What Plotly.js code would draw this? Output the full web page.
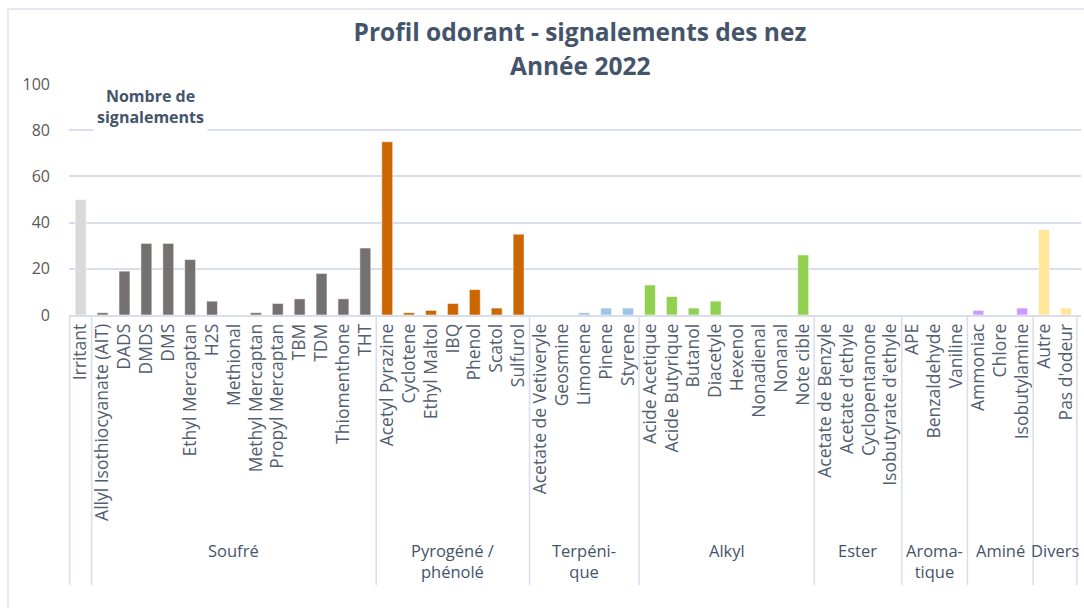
<!DOCTYPE html>
<html>
<head>
<meta charset="utf-8">
<script src="https://cdn.plot.ly/plotly-3.0.1.min.js"></script>
<style>html,body{margin:0;padding:0;background:#fff;}#chart{width:1084px;height:608px;}</style>
</head>
<body>
<div id="chart"></div>
<script>
const categories = ["Irritant",
  "Allyl Isothiocyanate (AIT)","DADS","DMDS","DMS","Ethyl Mercaptan","H2S","Methional","Methyl Mercaptan","Propyl Mercaptan","TBM","TDM","Thiomenthone","THT",
  "Acetyl Pyrazine","Cyclotene","Ethyl Maltol","IBQ","Phenol","Scatol","Sulfurol",
  "Acetate de Vetiveryle","Geosmine","Limonene","Pinene","Styrene",
  "Acide Acetique","Acide Butyrique","Butanol","Diacetyle","Hexenol","Nonadienal","Nonanal","Note cible",
  "Acetate de Benzyle","Acetate d'ethyle","Cyclopentanone","Isobutyrate d'ethyle",
  "APE","Benzaldehyde","Vaniline",
  "Ammoniac","Chlore","Isobutylamine",
  "Autre","Pas d'odeur"];
const values = [50,
  1,19,31,31,24,6,0,1,5,7,18,7,29,
  75,1,2,5,11,3,35,
  0,0,1,3,3,
  13,8,3,6,0,0,0,26,
  0,0,0,0,
  0,0,0,
  2,0,3,
  37,3];
const groupNames = ["", "Soufré", "Pyrogéné /<br>phénolé", "Terpéni-<br>que", "Alkyl", "Ester", "Aroma-<br>tique", "Aminé", "Divers"];
const groupSizes = [1, 13, 7, 5, 8, 4, 3, 3, 2];
const groupColors = ["#d9d9d9", "#767171", "#cc6600", "#9dc3e6", "#92d050", "#a9d18e", "#8faadc", "#cc99ff", "#ffe699"];
const yTicks = [0, 20, 40, 60, 80, 100];
const titleLines = ["Profil odorant - signalements des nez", "Année 2022"];

// per-bar colours from groups
const barColors = [];
groupSizes.forEach((n, g) => { for (let i = 0; i < n; i++) barColors.push(groupColors[g]); });

const lineCol = "#dadded";
const textCol = "#44546a";
const font = "Open Sans, sans-serif";

const shapes = [];
const annotations = [];
// plot area: 69..1081 px wide (1012), 84..315 px tall (231)
const pxY = p => (315 - p) / 231;
const pxX = p => (p - 69) / 1012;
let start = 0;
shapes.push({type: "line", xref: "x", yref: "paper", x0: -0.5, x1: -0.5, y0: 0, y1: pxY(585), line: {color: lineCol, width: 1.5}});
groupSizes.forEach((n, g) => {
  const end = start + n;
  shapes.push({type: "line", xref: "x", yref: "paper", x0: end - 0.5, x1: end - 0.5, y0: 0, y1: pxY(585), line: {color: lineCol, width: 1.5}});
  if (groupNames[g]) {
    annotations.push({xref: "x", yref: "paper", x: (start + end - 1) / 2, y: pxY(537), yanchor: "top", xanchor: "center",
      text: groupNames[g], showarrow: false, font: {family: font, size: 16.5, color: textCol}});
  }
  start = end;
});
// outer frame
shapes.push({type: "rect", xref: "paper", yref: "paper", x0: pxX(8), x1: pxX(1095), y0: pxY(620), y1: pxY(9), line: {color: "#dfe2ee", width: 1.5}});

annotations.push({xref: "paper", yref: "paper", x: pxX(150), y: pxY(106), xanchor: "center", yanchor: "middle",
  text: "<b>Nombre de<br>signalements</b>", showarrow: false, bgcolor: "#ffffff", borderpad: 3,
  font: {family: font, size: 16, color: textCol}});
annotations.push({xref: "paper", yref: "paper", x: pxX(580), y: pxY(65), xanchor: "center", yanchor: "middle",
  text: "<b>" + titleLines[1] + "</b>", showarrow: false, font: {family: font, size: 24.5, color: textCol}});

const trace = {
  type: "bar", x: categories, y: values,
  marker: {color: barColors, line: {color: "rgba(255,255,255,0.55)", width: 1}},
  hoverinfo: "x+y"
};

const layout = {
  width: 1084, height: 608,
  margin: {l: 69, r: 3, t: 84, b: 293},
  paper_bgcolor: "#ffffff", plot_bgcolor: "#ffffff",
  bargap: 0.5,
  showlegend: false,
  title: {text: "<b>" + titleLines[0] + "</b>", x: pxX(580), xref: "paper", xanchor: "center", yref: "container", y: 1 - 32 / 608, yanchor: "middle",
    font: {family: font, size: 24.5, color: textCol}},
  xaxis: {type: "category", tickangle: -90, showgrid: false, ticks: "", showline: true, linecolor: lineCol, linewidth: 1.5,
    tickfont: {family: font, size: 17.5, color: "#525e71"}, automargin: false, fixedrange: true},
  yaxis: {range: [0, 100], tickvals: yTicks, showgrid: true, gridcolor: lineCol, gridwidth: 1.5, zeroline: false, showline: false,
    ticks: "", ticklabelstandoff: 18, tickfont: {family: font, size: 16, color: "#595959"}, automargin: false, fixedrange: true},
  shapes: shapes,
  annotations: annotations
};

Plotly.newPlot("chart", [trace], layout, {displayModeBar: false, responsive: false});
</script>
</body>
</html>
